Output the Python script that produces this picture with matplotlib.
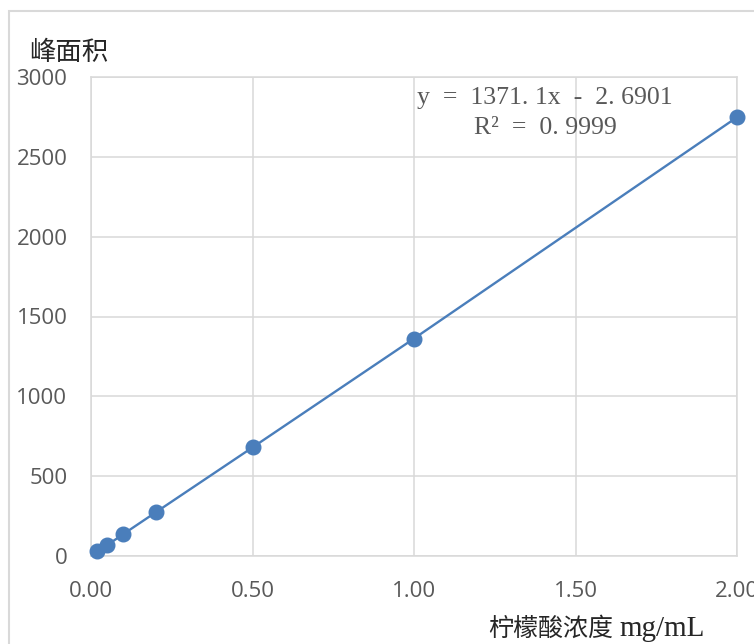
import matplotlib
matplotlib.use("Agg")
import matplotlib.pyplot as plt
from matplotlib.patches import Rectangle


# ===============================
# Data
# ===============================

concentration = [0.02, 0.05, 0.10, 0.20, 0.50, 1.00, 2.00]
peak_area = [32, 68, 137, 273, 680, 1362, 2748]

x_ticks = [0.0, 0.5, 1.0, 1.5, 2.0]
y_ticks = [0, 500, 1000, 1500, 2000, 2500, 3000]

equation_text = "y  =  1371. 1x  -  2. 6901"
r2_text = "R²  =  0. 9999"

x_label_cn = "柠檬酸浓度"
x_label_unit = "mg/mL"
y_label = "峰面积"


# ===============================
# Style
# ===============================

LINE_COLOR = "#4a7ebb"
GRID_COLOR = "#d9d9d9"
TICK_COLOR = "#595959"
CJK = ["Noto Sans CJK SC", "DejaVu Sans"]


def plot_curve():
    fig = plt.figure(figsize=(7.54, 6.44), dpi=100)

    # outer chart border
    fig.patches.append(Rectangle((9 / 754, -0.1), 1.2, 1 - 11 / 644 + 0.1,
                                 transform=fig.transFigure, fill=False,
                                 edgecolor=GRID_COLOR, linewidth=1.5))

    ax = fig.add_axes([91 / 754, 1 - 556 / 644, 646 / 754, 479 / 644])

    ax.plot(concentration, peak_area, color=LINE_COLOR, linewidth=1.7,
            marker="o", markersize=10.5, zorder=3, clip_on=False)

    ax.set_xlim(0, 2.0)
    ax.set_ylim(0, 3000)
    ax.set_xticks(x_ticks)
    ax.set_yticks(y_ticks)
    ax.set_xticklabels([f"{v:.2f}" for v in x_ticks])
    ax.set_yticklabels([str(v) for v in y_ticks])

    ax.grid(True, color=GRID_COLOR, linewidth=1.1)
    ax.set_axisbelow(True)
    for side in ax.spines.values():
        side.set_color(GRID_COLOR)
        side.set_linewidth(1.1)

    ax.tick_params(length=0, labelsize=16, labelcolor=TICK_COLOR)
    ax.tick_params(axis="x", pad=18)
    ax.tick_params(axis="y", pad=17)
    for lbl in ax.get_xticklabels() + ax.get_yticklabels():
        lbl.set_family("Open Sans")

    # axis titles
    fig.text(29 / 754, 1 - 53 / 644, y_label, family=CJK, fontsize=19,
             color="#262626", ha="left", va="center")
    fig.text(613 / 754, 1 - 629 / 644, x_label_cn, family=CJK,
             fontsize=18, color="#262626", ha="right", va="center")
    fig.text(619 / 754, 1 - 629 / 644, x_label_unit,
             family="Liberation Serif", fontsize=21, color="#262626",
             ha="left", va="center")

    # trendline equation
    ax.text(545 / 754, 1 - 98 / 644, equation_text, transform=fig.transFigure,
            family="Liberation Serif", fontsize=18.5, color=TICK_COLOR,
            ha="center", va="center")
    ax.text(545 / 754, 1 - 128 / 644, r2_text, transform=fig.transFigure,
            family="Liberation Serif", fontsize=18.5, color=TICK_COLOR,
            ha="center", va="center")

    fig.savefig("out.png", dpi=100)


if __name__ == "__main__":
    plot_curve()
